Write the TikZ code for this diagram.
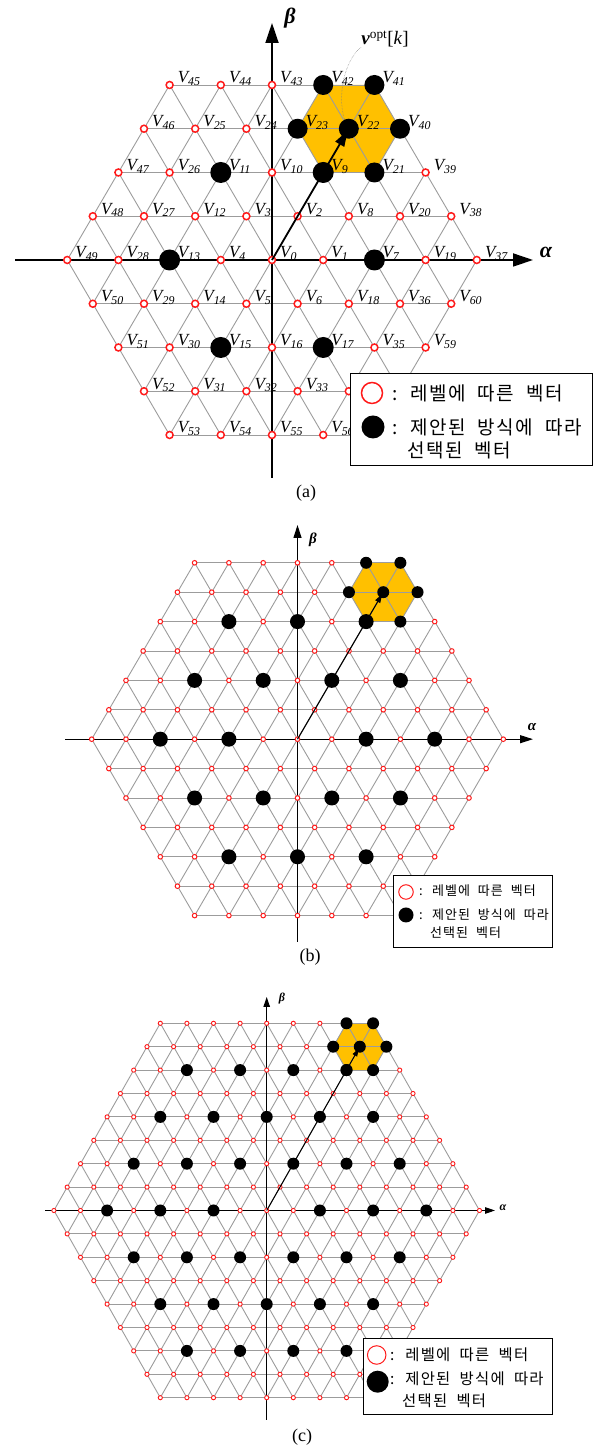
\documentclass[tikz,border=0pt]{standalone}
\usepackage{fontspec}
\setmainfont{Liberation Serif}
\newfontfamily\krfont[WordSpace=2,LetterSpace=8]{Noto Sans CJK KR}
\usetikzlibrary{arrows.meta}
\definecolor{amber}{HTML}{FFC000}
\definecolor{gridgray}{HTML}{9C9C9C}
\definecolor{lvlred}{HTML}{FF1A1A}

\begin{document}
\begin{tikzpicture}[x=1pt,y=1pt,
  gridline/.style={gridgray,line width=0.9pt},
  axisline/.style={black,line width=#1},
  lvl/.style={circle,draw=lvlred,fill=white,inner sep=0pt},
  sel/.style={circle,fill=black,inner sep=0pt,minimum size=#1},
  vlab/.style={anchor=base west,inner sep=0pt,xshift=8pt,yshift=2pt,
    font=\itshape\fontsize{17}{17}\selectfont},
  legbox/.style={draw=black,fill=white,line width=#1,anchor=north west},
  legtxt/.style={anchor=west,inner sep=0pt,font=\krfont\fontsize{#1}{#1}\selectfont},
  greek/.style={inner sep=0pt,font=\bfseries\itshape\fontsize{#1}{#1}\selectfont},
  captxt/.style={inner sep=0pt,font=\fontsize{18}{18}\selectfont}]

\useasboundingbox (0,0) rectangle (597,1447);

% name/R/origin/sx/sy/ring size,width/dot sizes/vector width,tip
\def\panels{A/4/272/1187/51.2/43.75/7/1.5/21/20/1.8/16/10,
  B/6/297.5/707.8/34.3/29.4/4.6/1/15/12/1.1/9/5.5,
  C/8/266.7/236.5/26.6/23.4/4.2/0.9/12/12/1/8/5}

\foreach \pn/\R/\ox/\oy/\sx/\sy/\lv/\lw/\dsz/\hsz/\vw/\vt/\vtw in \panels{
  \pgfmathsetmacro{\hx}{\sx/2}
  \begin{scope}[shift={(\ox,\oy)},x={(\sx pt,0pt)},y={(\hx pt,\sy pt)}]
    \foreach \b in {-\R,...,\R}{
      \foreach \a in {-\R,...,\R}{
        \pgfmathtruncatemacro{\inhex}{abs(\a+\b)<=\R}
        \ifnum\inhex=1 \coordinate (\pn\a x\b) at (\a,\b); \fi
      }
    }
    \pgfmathtruncatemacro{\cb}{\R-1}
    \pgfmathtruncatemacro{\tb}{\R-2}
    \fill[amber] (\pn1x\cb) -- (\pn0x\R) -- (\pn-1x\R) -- (\pn-1x\cb)
      -- (\pn0x\tb) -- (\pn1x\tb) -- cycle;
    \foreach \cc in {-\R,...,\R}{
      \pgfmathtruncatemacro{\lo}{max(-\R,-\R-\cc)}
      \pgfmathtruncatemacro{\hi}{min(\R,\R-\cc)}
      \pgfmathtruncatemacro{\ma}{max(-\R,\cc-\R)}
      \pgfmathtruncatemacro{\mb}{\cc-\ma}
      \pgfmathtruncatemacro{\na}{min(\R,\cc+\R)}
      \pgfmathtruncatemacro{\nb}{\cc-\na}
      \draw[gridline] (\pn\lo x\cc) -- (\pn\hi x\cc);
      \draw[gridline] (\pn\cc x\lo) -- (\pn\cc x\hi);
      \draw[gridline] (\pn\ma x\mb) -- (\pn\na x\nb);
    }
  \end{scope}
}

\coordinate (axAw) at (15,1187);
\coordinate (axAe) at (533,1187);
\coordinate (axAs) at (272,969);
\coordinate (axAn) at (272,1424);
\draw[axisline=1.8pt,-{Triangle[length=20pt,width=13pt]}] (axAw) -- (axAe);
\draw[axisline=1.8pt,-{Triangle[length=20pt,width=13pt]}] (axAs) -- (axAn);
\coordinate (axBw) at (65,707.8);
\coordinate (axBe) at (533,707.8);
\coordinate (axBs) at (297.5,505);
\coordinate (axBn) at (297.5,922);
\draw[axisline=1.1pt,-{Triangle[length=13pt,width=8pt]}] (axBw) -- (axBe);
\draw[axisline=1.1pt,-{Triangle[length=13pt,width=8pt]}] (axBs) -- (axBn);
\coordinate (axCw) at (45,236.5);
\coordinate (axCe) at (495,236.5);
\coordinate (axCs) at (266.7,27);
\coordinate (axCn) at (266.7,450);
\draw[axisline=1pt,-{Triangle[length=10pt,width=6.5pt]}] (axCw) -- (axCe);
\draw[axisline=1pt,-{Triangle[length=10pt,width=6.5pt]}] (axCs) -- (axCn);

\node[inner sep=0pt,font=\fontsize{19}{19}\selectfont] (vopt) at (385,1408)
  {\textbf{\textit{v}}\textsuperscript{opt}[\textit{k}]};
\draw[gray,line width=0.5pt,densely dotted] (vopt.south west)
  .. controls (342,1385) and (335,1340) .. (A0x3);

\foreach \pn/\R/\ox/\oy/\sx/\sy/\lv/\lw/\dsz/\hsz/\vw/\vt/\vtw in \panels{
  \pgfmathtruncatemacro{\cb}{\R-1}
  \pgfmathtruncatemacro{\hr}{\R/2-1}
  \foreach \b in {-\R,...,\R}{
    \foreach \a in {-\R,...,\R}{
      \pgfmathtruncatemacro{\inhex}{abs(\a+\b)<=\R}
      \ifnum\inhex=1
        \node[lvl,minimum size=\lv pt,line width=\lw pt] (\pn n\a x\b) at (\pn\a x\b) {};
      \fi
    }
  }
  \draw[line width=\vw pt,-{Triangle[length=\vt pt,width=\vtw pt]},shorten >=2pt]
    (\pn0x0) -- (\pn0x\cb);
  \foreach \da/\db in {0/0,1/0,-1/0,0/1,-1/1,0/-1,1/-1}{
    \pgfmathtruncatemacro{\hb}{\cb+\db}
    \node[sel=\hsz pt] (\pn h\da x\hb) at (\pn\da x\hb) {};
  }
  \foreach \b in {-\hr,...,\hr}{
    \foreach \a in {-\hr,...,\hr}{
      \pgfmathtruncatemacro{\ok}{and(abs(\a+\b)<=\hr,abs(\a)+abs(\b)>0)}
      \ifnum\ok=1
        \pgfmathtruncatemacro{\ta}{2*\a}
        \pgfmathtruncatemacro{\tb}{2*\b}
        \node[sel=\dsz pt] (\pn s\ta x\tb) at (\pn\ta x\tb) {};
      \fi
    }
  }
}

% 34, 57, 58 sit under the legend
\node[vlab] (V0) at (A0x0) {V\textsubscript{0}};
\foreach \ring in {1,...,4}{
  \pgfmathtruncatemacro{\rl}{\ring-1}
  \foreach \sd/\da/\db/\ea/\eb in {0/1/0/-1/1,1/0/1/-1/0,2/-1/1/0/-1,
      3/-1/0/1/-1,4/0/-1/1/0,5/1/-1/0/1}{
    \foreach \st in {0,...,\rl}{
      \pgfmathtruncatemacro{\pa}{\ring*\da+\st*\ea}
      \pgfmathtruncatemacro{\pb}{\ring*\db+\st*\eb}
      \pgfmathtruncatemacro{\idx}{3*\ring*(\ring-1)+1+\sd*\ring+\st}
      \pgfmathtruncatemacro{\hid}{or(\idx==34,or(\idx==57,\idx==58))}
      \ifnum\hid=0
        \node[vlab] (V\idx) at (A\pa x\pb) {V\textsubscript{\idx}};
      \fi
    }
  }
}

\node[greek=22] (alphaA) at (546,1195) {α};
\node[greek=22] (betaA) at (290,1429) {β};
\node[greek=15] (alphaB) at (532,720) {α};
\node[greek=15] (betaB) at (313,907) {β};
\node[greek=12] (alphaC) at (503,239) {α};
\node[greek=12] (betaC) at (282,448) {β};

\node[legbox=1.3pt,minimum width=242pt,minimum height=92pt] (legA) at (350,1074) {};
\node[lvl,minimum size=21pt,line width=1.5pt] (legAr) at (372,1054) {};
\node[sel=23pt] (legAb) at (373,1020) {};
\node[legtxt=19] (legAt1) at (392,1054) {: 레벨에 따른 벡터};
\node[legtxt=19] (legAt2) at (392,1020) {: 제안된 방식에 따라};
\node[legtxt=19] (legAt3) at (407,997) {선택된 벡터};

\node[legbox=1pt,minimum width=159pt,minimum height=72pt] (legB) at (393,572) {};
\node[lvl,minimum size=14.5pt,line width=1pt] (legBr) at (406,555) {};
\node[sel=15pt] (legBb) at (406,532) {};
\node[legtxt=13] (legBt1) at (419,556) {: 레벨에 따른 벡터};
\node[legtxt=13] (legBt2) at (419,532) {: 제안된 방식에 따라};
\node[legtxt=13] (legBt3) at (430,514) {선택된 벡터};

\node[legbox=1pt,minimum width=189pt,minimum height=76pt] (legC) at (363,109) {};
\node[lvl,minimum size=18.5pt,line width=1pt] (legCr) at (376.7,92) {};
\node[sel=22pt] (legCb) at (377.7,65.3) {};
\node[legtxt=15.4] (legCt1) at (390,92) {: 레벨에 따른 벡터};
\node[legtxt=15.4] (legCt2) at (390,68) {: 제안된 방식에 따라};
\node[legtxt=15.4] (legCt3) at (402,46) {선택된 벡터};

\node[captxt] (capA) at (306,954) {(a)};
\node[captxt] (capB) at (310,490) {(b)};
\node[captxt] (capC) at (302,10) {(c)};

\end{tikzpicture}
\end{document}
